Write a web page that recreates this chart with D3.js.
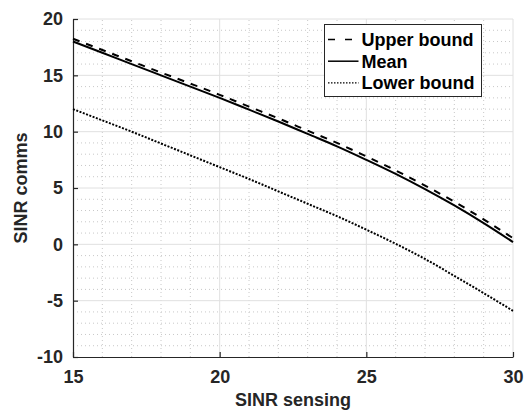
<!DOCTYPE html>
<html>
<head>
<meta charset="utf-8">
<script src="https://cdn.jsdelivr.net/npm/d3@7"></script>
<style>
  body { margin: 0; background: #fff; }
  svg { display: block; }
  text { font-family: "Liberation Sans", Arial, sans-serif; font-weight: bold; }
</style>
</head>
<body>
<div id="chart"></div>
<script>
// ******* DATA *******
const sinrSensing = [15, 16, 17, 18, 19, 20, 21, 22, 23, 24, 25, 26, 27, 28, 29, 30];
const meanComms   = [18.0, 17.0, 16.0, 15.0, 14.0, 13.0, 11.95, 10.9, 9.8, 8.7, 7.5, 6.25, 4.9, 3.45, 1.88, 0.2];
const upperComms  = [18.25, 17.25, 16.25, 15.25, 14.27, 13.27, 12.22, 11.18, 10.09, 9.0, 7.8, 6.56, 5.22, 3.78, 2.22, 0.55];
const lowerComms  = [12.0, 11.0, 10.0, 8.95, 7.9, 6.85, 5.8, 4.7, 3.6, 2.5, 1.3, 0.05, -1.3, -2.8, -4.33, -5.9];
const xTicks = [15, 20, 25, 30];
const yTicks = [-10, -5, 0, 5, 10, 15, 20];
const legendLabels = ["Upper bound", "Mean", "Lower bound"];

// ******* LAYOUT *******
const width = 529, height = 410;
const margin = { left: 73, right: 16, top: 19, bottom: 53 };
const textColor = "#262626";

const svg = d3.select("#chart").append("svg")
    .attr("width", width)
    .attr("height", height);

const x = d3.scaleLinear().domain([15, 30]).range([margin.left, width - margin.right]);
const y = d3.scaleLinear().domain([-10, 20]).range([height - margin.bottom, margin.top]);

// minor grid (dotted) every 1 unit
const grid = svg.append("g");
grid.selectAll(".vminor").data(d3.range(16, 30).filter(d => d % 5 !== 0))
    .join("line")
    .attr("x1", d => x(d)).attr("x2", d => x(d))
    .attr("y1", y(-10)).attr("y2", y(20))
    .attr("stroke", "#c8c8c8").attr("stroke-width", 1)
    .attr("stroke-dasharray", "1,3");
grid.selectAll(".hminor").data(d3.range(-9, 20).filter(d => d % 5 !== 0))
    .join("line")
    .attr("x1", x(15)).attr("x2", x(30))
    .attr("y1", d => y(d)).attr("y2", d => y(d))
    .attr("stroke", "#c8c8c8").attr("stroke-width", 1)
    .attr("stroke-dasharray", "1,3");

// major grid (solid)
grid.selectAll(".vmajor").data(xTicks.slice(1))
    .join("line")
    .attr("x1", d => x(d)).attr("x2", d => x(d))
    .attr("y1", y(-10)).attr("y2", y(20))
    .attr("stroke", "#e0e0e0").attr("stroke-width", 1);
grid.selectAll(".hmajor").data(yTicks.slice(1))
    .join("line")
    .attr("x1", x(15)).attr("x2", x(30))
    .attr("y1", d => y(d)).attr("y2", d => y(d))
    .attr("stroke", "#e0e0e0").attr("stroke-width", 1);

// ******* AXES *******
// plain hyphen for negatives, like the reference
const fmt = d => String(d);
const xAxis = svg.append("g")
    .attr("transform", `translate(0,${y(-10)})`)
    .call(d3.axisBottom(x).tickValues(xTicks).tickFormat(fmt).tickSizeInner(-5).tickSizeOuter(0).tickPadding(13));
const yAxis = svg.append("g")
    .attr("transform", `translate(${x(15)},0)`)
    .call(d3.axisLeft(y).tickValues(yTicks).tickFormat(fmt).tickSizeInner(-5).tickSizeOuter(0).tickPadding(10));

[xAxis, yAxis].forEach(a => {
    a.attr("font-family", null).attr("font-size", null);
    a.select(".domain").attr("stroke", textColor).attr("stroke-width", 1.2);
    a.selectAll(".tick line").attr("stroke", textColor).attr("stroke-width", 1.2);
    a.selectAll(".tick text")
        .attr("fill", textColor)
        .style("font-size", "18px")
        .style("font-weight", "bold")
        .style("font-family", "'Liberation Sans', Arial, sans-serif");
});

// axis labels
svg.append("text")
    .attr("x", (x(15) + x(30)) / 2)
    .attr("y", 406)
    .attr("text-anchor", "middle")
    .attr("fill", textColor)
    .style("font-size", "18px")
    .text("SINR sensing");

svg.append("text")
    .attr("transform", `translate(27,${(y(-10) + y(20)) / 2}) rotate(-90)`)
    .attr("text-anchor", "middle")
    .attr("fill", textColor)
    .style("font-size", "18px")
    .text("SINR comms");

// ******* LINES *******
const line = d3.line()
    .x((d, i) => x(sinrSensing[i]))
    .y(d => y(d))
    .curve(d3.curveMonotoneX);
const series = [
    { values: upperComms, dash: "7,7" },
    { values: meanComms, dash: null },
    { values: lowerComms, dash: "2,1.5" }
];

svg.append("g").selectAll("path").data(series)
    .join("path")
    .attr("d", d => line(d.values))
    .attr("fill", "none")
    .attr("stroke", "#000")
    .attr("stroke-width", 2)
    .attr("stroke-dasharray", d => d.dash);

// ******* LEGEND *******
const legend = svg.append("g").attr("transform", "translate(324.5,24.5)");
legend.append("rect")
    .attr("width", 157).attr("height", 72)
    .attr("fill", "#fff")
    .attr("stroke", textColor).attr("stroke-width", 1);

const rows = legend.selectAll(".row").data(series)
    .join("g")
    .attr("transform", (d, i) => `translate(0,${15 + i * 21.7})`);
rows.append("line")
    .attr("x1", 3.5).attr("x2", 34)
    .attr("stroke", "#000")
    .attr("stroke-width", d => d.dash === "2,1.5" ? 1.2 : 1.5)
    .attr("stroke-dasharray", (d, i) => i === 0 ? "7,10" : (d.dash ? "1.5,1.5" : null));
rows.append("text")
    .attr("x", 37)
    .attr("dy", "0.36em")
    .attr("fill", "#000")
    .style("font-size", "18px")
    .text((d, i) => legendLabels[i]);
</script>
</body>
</html>
